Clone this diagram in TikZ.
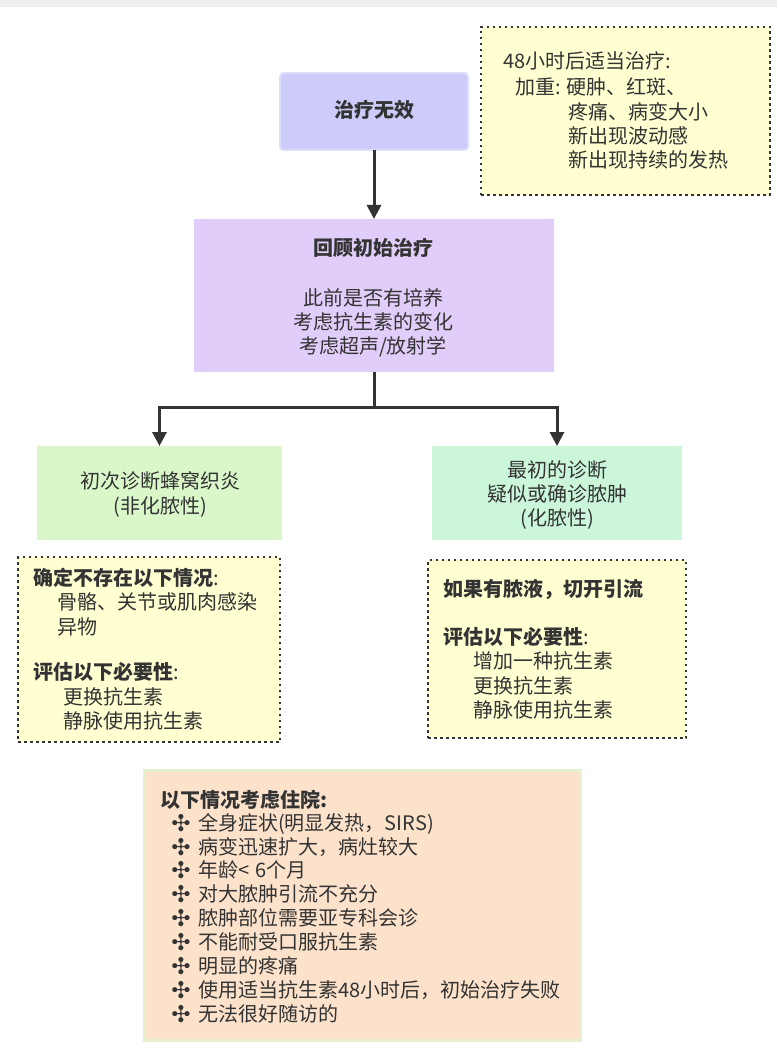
\documentclass[tikz,border=0pt]{standalone}
\usepackage{fontspec}
\setmainfont{Noto Sans CJK SC}
\newfontfamily\symfont{DejaVu Sans}
\usetikzlibrary{arrows.meta}
\definecolor{ink}{HTML}{333333}
\definecolor{linec}{HTML}{333333}
\definecolor{cblue}{HTML}{CCCBF9}
\definecolor{cblueb}{HTML}{DCDCFB}
\definecolor{cpurp}{HTML}{E1CDF9}
\definecolor{cgreenA}{HTML}{DAF7C9}
\definecolor{cgreenB}{HTML}{CBF6D9}
\definecolor{cyel}{HTML}{FFFFD2}
\definecolor{cpeach}{HTML}{FCE2CB}
\definecolor{cpeachb}{HTML}{E3F1CF}
\definecolor{topband}{HTML}{EFEFEF}
\begin{document}
\begin{tikzpicture}[x=1pt,y=-1pt,
  boxbase/.style={inner sep=0, outer sep=0},
  solidbox/.style={boxbase, draw=none},
  dotbox/.style={boxbase, fill=cyel, draw=ink, line width=2.5pt, dash pattern=on 2.5pt off 3.5pt},
  tl/.style={inner sep=0, anchor=west, text=ink, font=\fontsize{20}{24}\selectfont, text height=17pt, text depth=3pt},
  tc/.style={tl, anchor=center},
  tb/.style={tl, font=\fontsize{20}{24}\selectfont\bfseries},
  bul/.style={inner sep=0, anchor=center, text=ink, font=\symfont\bfseries\fontsize{23}{23}\selectfont},
  conn/.style={draw=linec, line width=3pt},
  arr/.style={conn, -{Triangle[width=14pt,length=14pt]}}
]
\useasboundingbox (0,0) rectangle (777,1059);
\fill[white] (0,0) rectangle (777,1059);
\fill[topband] (0,0) rectangle (777,7);

% boxes
\node[solidbox, fill=cblue, draw=cblueb, line width=2pt, rounded corners=4pt, minimum width=188, minimum height=77] (n1) at (374,111.5) {};
\node[tb, anchor=center] (n1t) at (374,111) {治疗无效};

\node[dotbox, minimum width=289, minimum height=168] (note) at (625.5,111) {};
\node[tl] (note1) at (503,62) {48小时后适当治疗:};
\node[tl] (note2) at (515,88) {加重: 硬肿、红斑、};
\node[tl] (note3) at (568,113) {疼痛、病变大小};
\node[tl] (note4) at (568,137) {新出现波动感};
\node[tl] (note5) at (568,161) {新出现持续的发热};

\node[solidbox, fill=cpurp, minimum width=360, minimum height=153] (n2) at (374,295.5) {};
\node[tb, anchor=center] (n2t) at (373,248) {回顾初始治疗};
\node[tc] (n2a) at (373,298) {此前是否有培养};
\node[tc] (n2b) at (373,322) {考虑抗生素的变化};
\node[tc] (n2c) at (373,346) {考虑超声/放射学};

\node[solidbox, fill=cgreenA, minimum width=245, minimum height=94] (g1) at (159.5,493) {};
\node[tc] (g1a) at (160,481) {初次诊断蜂窝织炎};
\node[tc] (g1b) at (160,506) {(非化脓性)};

\node[solidbox, fill=cgreenB, minimum width=250, minimum height=94] (g2) at (557,493) {};
\node[tc] (g2a) at (557,470) {最初的诊断};
\node[tc] (g2b) at (557,494) {疑似或确诊脓肿};
\node[tc] (g2c) at (557,518) {(化脓性)};

\node[dotbox, minimum width=262, minimum height=185] (d1) at (149,649.5) {};
\node[tl] (d1a) at (33,578) {\textbf{确定不存在以下情况}:};
\node[tl] (d1b) at (57,602) {骨骼、关节或肌肉感染};
\node[tl] (d1c) at (57,627) {异物};
\node[tl] (d1d) at (33,672) {\textbf{评估以下必要性}:};
\node[tl] (d1e) at (63,697) {更换抗生素};
\node[tl] (d1f) at (63,721) {静脉使用抗生素};

\node[dotbox, minimum width=258, minimum height=178] (d2) at (557,649) {};
\node[tb] (d2a) at (443,589) {如果有脓液，切开引流};
\node[tl] (d2b) at (443,637) {\textbf{评估以下必要性}:};
\node[tl] (d2c) at (473,661) {增加一种抗生素};
\node[tl] (d2d) at (473,686) {更换抗生素};
\node[tl] (d2e) at (473,710) {静脉使用抗生素};

\node[solidbox, fill=cpeach, draw=cpeachb, line width=3pt, minimum width=436, minimum height=270] (hb) at (362,905) {};
\node[tb] (h0) at (160,800) {以下情况考虑住院:};
\foreach \yy/\txt [count=\i] in {823/{全身症状(明显发热，SIRS)},847/{病变迅速扩大，病灶较大},870/{年龄<\hspace{0.3em}6个月},894/{对大脓肿引流不充分},918/{脓肿部位需要亚专科会诊},942/{不能耐受口服抗生素},966/{明显的疼痛},990/{使用适当抗生素48小时后，初始治疗失败},1014/{无法很好随访的}}{
  \node[bul] (hb\i) at (181,\yy) {✣};
  \node[tl] (ht\i) at (198,\yy) {\txt};
}

% connectors
\draw[arr] (n1.south) -- (n2.north);
\coordinate (br) at (374,407);
\draw[conn] (n2.south) -- (br);
\draw[arr] (br) -| (g1.north);
\draw[arr] (br) -| (g2.north);
\end{tikzpicture}
\end{document}
